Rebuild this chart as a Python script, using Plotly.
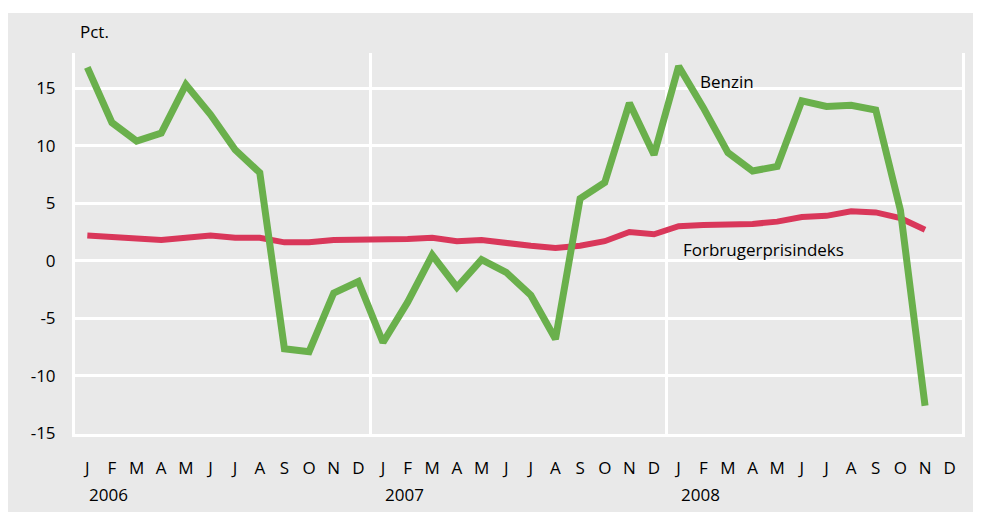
import plotly.graph_objects as go

months = ["J", "F", "M", "A", "M", "J", "J", "A", "S", "O", "N", "D"] * 3
years = ["2006", "2007", "2008"]

benzin = [16.8, 12.0, 10.4, 11.1, 15.3, 12.7, 9.65, 7.65, -7.65, -7.9, -2.8, -1.8,
          -7.1, -3.6, 0.5, -2.3, 0.1, -1.0, -3.0, -6.8, 5.4, 6.8, 13.7, 9.2,
          16.9, 13.3, 9.4, 7.8, 8.2, 13.9, 13.4, 13.5, 13.1, 4.4, -12.6]
cpi = [2.2, 2.1, 1.9, 1.8, 2.0, 2.2, 2.0, 2.0, 1.6, 1.6, 1.8, 1.8,
       1.8, 1.9, 2.0, 1.7, 1.8, 1.5, 1.3, 1.1, 1.3, 1.7, 2.5, 2.3,
       3.0, 3.1, 3.1, 3.2, 3.4, 3.8, 3.9, 4.3, 4.2, 3.7, 2.7]
yticks = [-15, -10, -5, 0, 5, 10, 15]
ytick_labels = ["-15", "-10", "-5", "0", "5", "10", "15"]

FONT = "Open Sans"
FS = 17
TXT = "#000000"
W, H = 973, 505
L, R, T, B = 67, 19, 45, 79
PW, PH = W - L - R, H - T - B


def px(xf):
    return (xf - L) / PW


def py(yf):
    return (H - B - yf) / PH


fig = go.Figure()
fig.add_trace(go.Scatter(x=list(range(len(cpi))), y=cpi, mode="lines",
                         line=dict(color="#d9375a", width=6), hoverinfo="skip"))
fig.add_trace(go.Scatter(x=list(range(len(benzin))), y=benzin, mode="lines",
                         line=dict(color="#6ab04c", width=7), hoverinfo="skip"))

# outer grey panel
fig.add_shape(type="rect", xref="paper", yref="paper",
              x0=px(0), x1=px(W), y0=py(504), y1=py(5),
              fillcolor="#e9e9e9", line=dict(width=0), layer="below")

fig.add_annotation(text="Pct.", xref="paper", yref="paper",
                   x=px(70), y=py(23), xanchor="left", yanchor="middle",
                   showarrow=False, font=dict(family=FONT, size=FS, color=TXT))
fig.add_annotation(text="Benzin", x=24.8, y=15.6, xanchor="left", yanchor="middle",
                   showarrow=False, font=dict(family=FONT, size=FS, color=TXT))
fig.add_annotation(text="Forbrugerprisindeks", x=24.1, y=0.96, xanchor="left", yanchor="middle",
                   showarrow=False, font=dict(family=FONT, size=FS, color=TXT))
for i, yr in enumerate(years):
    fig.add_annotation(text=yr, x=12 * i, xref="x", yref="paper", y=py(486),
                       xanchor="left", yanchor="middle", xshift=0, showarrow=False,
                       font=dict(family=FONT, size=FS, color=TXT))

fig.update_layout(
    width=W, height=H,
    margin=dict(l=L, r=R, t=T, b=B),
    paper_bgcolor="white", plot_bgcolor="#dddddd",
    showlegend=False,
    xaxis=dict(range=[-0.5, 35.5], tickmode="array", tickvals=list(range(36)),
               ticktext=months, showgrid=False, zeroline=False, ticks="",
               ticklabelstandoff=17,
               tickfont=dict(family=FONT, size=FS, color=TXT),
               showline=True, linecolor="white", linewidth=3, mirror=False,
               minor=dict(tickmode="array", tickvals=[11.5, 23.5], showgrid=True,
                          gridcolor="white", gridwidth=3, ticks="")),
    yaxis=dict(range=[-15.05, 18.05], tickmode="array", tickvals=yticks,
               ticktext=ytick_labels,
               showgrid=True, gridcolor="white", gridwidth=3, zeroline=False,
               ticks="", ticklabelstandoff=13,
               tickfont=dict(family=FONT, size=FS, color=TXT),
               showline=True, linecolor="white", linewidth=3, mirror=True),
)

fig.write_html("out.html")
